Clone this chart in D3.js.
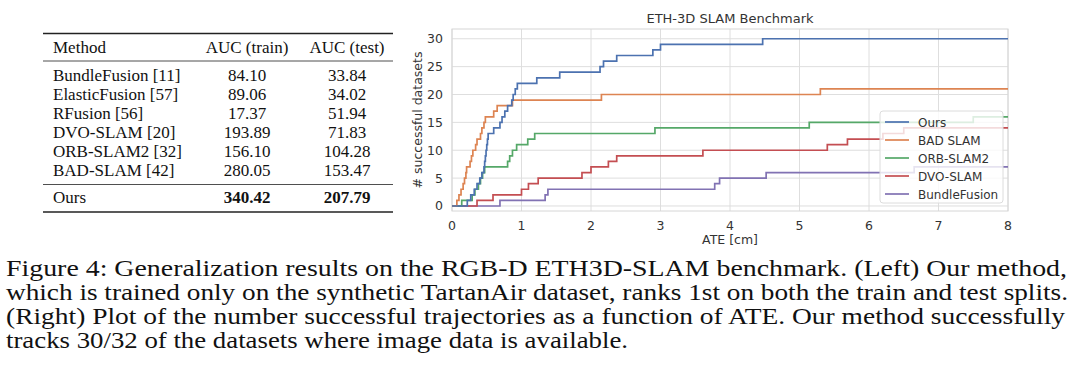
<!DOCTYPE html>
<html>
<head>
<meta charset="utf-8">
<script src="https://cdn.jsdelivr.net/npm/d3@7"></script>
<style>
  body { margin: 0; background: #fff; }
  svg { display: block; }
</style>
</head>
<body>
<svg id="fig" width="1080" height="378"></svg>
<script>
// table data
const methods = ["BundleFusion [11]", "ElasticFusion [57]", "RFusion [56]", "DVO-SLAM [20]", "ORB-SLAM2 [32]", "BAD-SLAM [42]"];
const aucTrain = ["84.10", "89.06", "17.37", "193.89", "156.10", "280.05"];
const aucTest = ["33.84", "34.02", "51.94", "71.83", "104.28", "153.47"];
const oursRow = ["Ours", "340.42", "207.79"];

// step curves: [ATE, # successful datasets] at each step
const oursSteps = [[0,0],[0.22,1],[0.27,2],[0.32,3],[0.36,4],[0.4,5],[0.43,6],[0.46,7],[0.47,8],[0.48,9],[0.49,10],[0.5,11],[0.51,12],[0.52,13],[0.6,14],[0.69,15],[0.72,16],[0.76,17],[0.8,18],[0.86,19],[0.88,20],[0.91,21],[0.94,22],[1.22,23],[1.55,24],[2.13,25],[2.18,26],[2.37,27],[2.89,28],[3.0,29],[4.47,30]];
const badSteps = [[0,0],[0.07,1],[0.1,2],[0.13,3],[0.16,4],[0.18,5],[0.2,6],[0.21,7],[0.26,8],[0.28,9],[0.3,10],[0.34,11],[0.36,12],[0.41,13],[0.43,14],[0.46,15],[0.48,16],[0.6,17],[0.65,18],[0.87,19],[2.15,20],[5.3,21]];
const orbSteps = [[0,0],[0.14,1],[0.29,2],[0.33,3],[0.38,4],[0.41,5],[0.44,6],[0.47,7],[0.8,8],[0.83,9],[0.87,10],[0.93,11],[1.09,12],[1.19,13],[2.92,14],[5.14,15],[7.5,16]];
const dvoSteps = [[0,0],[0.36,1],[0.59,2],[1.0,3],[1.1,4],[1.24,5],[1.87,6],[2.0,7],[2.25,8],[2.37,9],[3.61,10],[5.4,11],[5.69,12],[6.2,13],[6.5,14]];
const bfSteps = [[0,0],[0.69,1],[1.34,2],[1.38,3],[3.78,4],[3.85,5],[4.52,6],[6.65,7]];

const seriesNames = ["Ours", "BAD SLAM", "ORB-SLAM2", "DVO-SLAM", "BundleFusion"];
const seriesColors = ["#4c72b0", "#dd8452", "#55a868", "#c44e52", "#8172b3"];
const xTicks = [0, 1, 2, 3, 4, 5, 6, 7, 8];
const yTicks = [0, 5, 10, 15, 20, 25, 30];

const captionLines = [
  "Figure 4:  Generalization results on the RGB-D ETH3D-SLAM benchmark.  (Left) Our method,",
  "which is trained only on the synthetic TartanAir dataset, ranks 1st on both the train and test splits.",
  "(Right) Plot of the number successful trajectories as a function of ATE. Our method successfully",
  "tracks 30/32 of the datasets where image data is available."
];

const svg = d3.select("#fig");
const serif = "'Liberation Serif', 'Times New Roman', serif";
const sans = "'DejaVu Sans', sans-serif";

// ---- table ----
function drawTable() {
  const g = svg.append("g").style("font-family", serif).style("font-size", "17px").attr("fill", "#111");
  const left = 43, right = 393;
  const cx1 = 247, cx2 = 347, tx = 53;
  const rule = (y, w) => g.append("line").attr("x1", left).attr("x2", right)
    .attr("y1", y).attr("y2", y).attr("stroke", "#222").attr("stroke-width", w);

  rule(33.5, 1.6);
  g.append("text").attr("x", tx).attr("y", 52.5).text("Method");
  g.append("text").attr("x", cx1).attr("y", 52.5).attr("text-anchor", "middle").text("AUC (train)");
  g.append("text").attr("x", cx2).attr("y", 52.5).attr("text-anchor", "middle").text("AUC (test)");
  rule(61, 0.8);

  const rowY = d3.scaleLinear().domain([0, 5]).range([80.5, 176]);
  methods.forEach((m, i) => {
    g.append("text").attr("x", tx).attr("y", rowY(i)).text(m);
    g.append("text").attr("x", cx1).attr("y", rowY(i)).attr("text-anchor", "middle").text(aucTrain[i]);
    g.append("text").attr("x", cx2).attr("y", rowY(i)).attr("text-anchor", "middle").text(aucTest[i]);
  });
  rule(184.5, 0.8);
  g.append("text").attr("x", tx).attr("y", 202.5).text(oursRow[0]);
  g.append("text").attr("x", cx1).attr("y", 202.5).attr("text-anchor", "middle").attr("font-weight", "bold").text(oursRow[1]);
  g.append("text").attr("x", cx2).attr("y", 202.5).attr("text-anchor", "middle").attr("font-weight", "bold").text(oursRow[2]);
  rule(212, 1.6);
}

// ---- plot ----
function drawPlot() {
  const x = d3.scaleLinear().domain([0, 8]).range([452, 1008]);
  const y = d3.scaleLinear().domain([-0.9, 31.75]).range([211, 29]);
  const g = svg.append("g").style("font-family", sans);

  // grid
  g.append("g").selectAll("line").data(xTicks).join("line")
    .attr("x1", d => x(d)).attr("x2", d => x(d)).attr("y1", y.range()[0]).attr("y2", y.range()[1])
    .attr("stroke", "#dedede").attr("stroke-width", 1);
  g.append("g").selectAll("line").data(yTicks).join("line")
    .attr("y1", d => y(d)).attr("y2", d => y(d)).attr("x1", x.range()[0]).attr("x2", x.range()[1])
    .attr("stroke", "#dedede").attr("stroke-width", 1);
  g.append("rect").attr("x", x.range()[0]).attr("y", y.range()[1])
    .attr("width", x.range()[1] - x.range()[0]).attr("height", y.range()[0] - y.range()[1])
    .attr("fill", "none").attr("stroke", "#d6d6d6").attr("stroke-width", 1);

  // tick labels
  g.append("g").selectAll("text").data(xTicks).join("text")
    .attr("x", d => x(d)).attr("y", 230).attr("text-anchor", "middle")
    .attr("fill", "#333").style("font-size", "12.5px").text(d => d);
  g.append("g").selectAll("text").data(yTicks).join("text")
    .attr("x", 443).attr("y", d => y(d) + 4.5).attr("text-anchor", "end")
    .attr("fill", "#333").style("font-size", "12.5px").text(d => d);

  g.append("text").attr("x", 730).attr("y", 23).attr("text-anchor", "middle")
    .attr("fill", "#333").style("font-size", "13px").text("ETH-3D SLAM Benchmark");
  g.append("text").attr("x", 730).attr("y", 244).attr("text-anchor", "middle")
    .attr("fill", "#333").style("font-size", "12.5px").text("ATE [cm]");
  g.append("text").attr("transform", "translate(422,120) rotate(-90)").attr("text-anchor", "middle")
    .attr("fill", "#333").style("font-size", "12.5px").text("# successful datasets");

  // step lines
  const line = d3.line().x(d => x(d[0])).y(d => y(d[1])).curve(d3.curveStepAfter);
  const all = [oursSteps, badSteps, orbSteps, dvoSteps, bfSteps];
  // draw back to front so Ours ends on top
  for (let i = all.length - 1; i >= 0; i--) {
    const pts = all[i].concat([[8, all[i][all[i].length - 1][1]]]);
    g.append("path").attr("d", line(pts)).attr("fill", "none")
      .attr("stroke", seriesColors[i]).attr("stroke-width", 1.7);
  }

  // legend
  const lg = g.append("g");
  lg.append("rect").attr("x", 880).attr("y", 111).attr("width", 123).attr("height", 92)
    .attr("rx", 3).attr("fill", "#fff").attr("fill-opacity", 0.8)
    .attr("stroke", "#dcdcdc").attr("stroke-width", 1);
  seriesNames.forEach((n, i) => {
    const ly = 122 + i * 18;
    lg.append("line").attr("x1", 885).attr("x2", 909).attr("y1", ly).attr("y2", ly)
      .attr("stroke", seriesColors[i]).attr("stroke-width", 1.7);
    lg.append("text").attr("x", 918).attr("y", ly + 4.5).attr("fill", "#333")
      .style("font-size", "12px").text(n);
  });
}

// ---- caption ----
function drawCaption() {
  const g = svg.append("g").style("font-family", serif).style("font-size", "23px").attr("fill", "#111");
  const widths = [1061, 1062, 1059, 622];
  captionLines.forEach((t, i) => {
    g.append("text").attr("x", 6).attr("y", 276 + i * 24)
      .attr("textLength", widths[i]).attr("lengthAdjust", "spacingAndGlyphs").text(t);
  });
}

drawTable();
drawPlot();
drawCaption();
</script>
</body>
</html>
